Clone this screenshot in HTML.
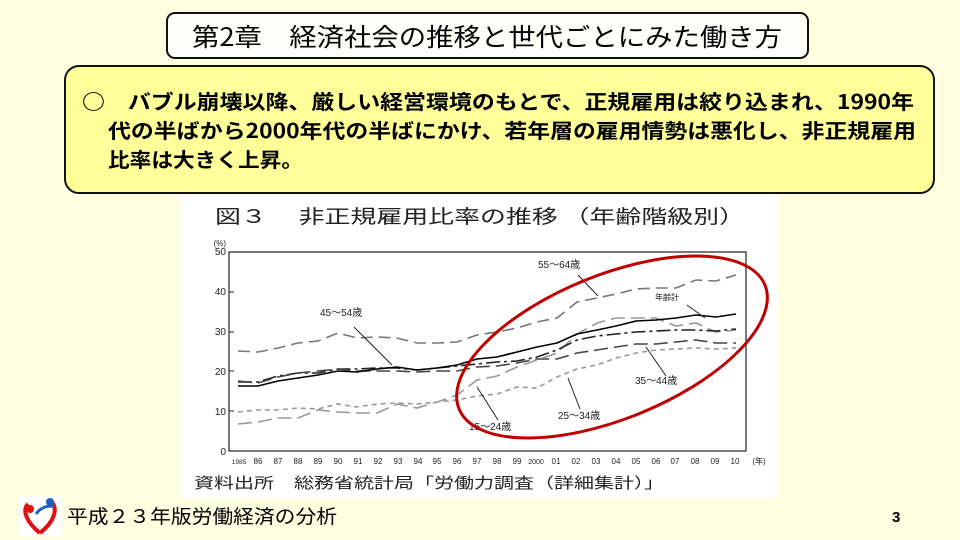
<!DOCTYPE html>
<html><head><meta charset="utf-8"><style>
body{margin:0;width:960px;height:540px;background:#FFFEE0;overflow:hidden;font-family:"Liberation Sans","Noto Sans CJK JP",sans-serif;}
</style></head><body>
<svg width="960" height="540" xmlns="http://www.w3.org/2000/svg" style="position:absolute;left:0;top:0">
<rect x="0" y="0" width="960" height="540" fill="#FFFEE0"/>
<rect x="167" y="13" width="641" height="45" rx="8" fill="#FFFFF8" stroke="#111" stroke-width="2"/>
<text x="192" y="46" textLength="590" lengthAdjust="spacingAndGlyphs" font-size="25" font-family="'Noto Sans CJK JP',sans-serif" fill="#000">第2章　経済社会の推移と世代ごとにみた働き方</text>
<rect x="65" y="66" width="869" height="127" rx="14" fill="#FFFF99" stroke="#111" stroke-width="2"/>
<g font-size="20" font-family="'Noto Sans CJK JP',sans-serif" fill="#000" font-weight="bold">
<text x="82" y="109" textLength="832" lengthAdjust="spacingAndGlyphs">○　バブル崩壊以降、厳しい経営環境のもとで、正規雇用は絞り込まれ、1990年</text>
<text x="108" y="138" textLength="808" lengthAdjust="spacingAndGlyphs">代の半ばから2000年代の半ばにかけ、若年層の雇用情勢は悪化し、非正規雇用</text>
<text x="108" y="167" textLength="195" lengthAdjust="spacingAndGlyphs">比率は大きく上昇。</text>
</g>
<rect x="180" y="196" width="598" height="302" fill="#FFFFFF"/>
<text x="215" y="223" textLength="530" lengthAdjust="spacingAndGlyphs" font-size="19" font-family="'Noto Sans CJK JP',sans-serif" fill="#222">図３　 非正規雇用比率の推移 （年齢階級別）</text>
<g font-size="10" fill="#222" text-anchor="end">
<text x="226" y="246" font-size="8">(%)</text>
<text x="226" y="255">50</text><text x="226" y="295">40</text><text x="226" y="335">30</text><text x="226" y="375">20</text><text x="226" y="415">10</text><text x="226" y="455">0</text>
</g>
<rect x="229" y="252" width="517" height="199" fill="none" stroke="#222" stroke-width="1.2"/>
<g stroke="#222"><line x1="229" y1="292" x2="234" y2="292"/><line x1="229" y1="332" x2="234" y2="332"/><line x1="229" y1="371" x2="234" y2="371"/><line x1="229" y1="411" x2="234" y2="411"/></g>
<g font-size="8" fill="#222" text-anchor="middle">
<text x="239" y="464" font-size="6.5">1985</text><text x="258" y="464">86</text><text x="278" y="464">87</text><text x="298" y="464">88</text><text x="318" y="464">89</text><text x="338" y="464">90</text><text x="358" y="464">91</text><text x="378" y="464">92</text><text x="398" y="464">93</text><text x="418" y="464">94</text><text x="437" y="464">95</text><text x="457" y="464">96</text><text x="477" y="464">97</text><text x="497" y="464">98</text><text x="517" y="464">99</text><text x="536" y="464" font-size="7">2000</text><text x="556" y="464">01</text><text x="576" y="464">02</text><text x="596" y="464">03</text><text x="616" y="464">04</text><text x="636" y="464">05</text><text x="656" y="464">06</text><text x="675" y="464">07</text><text x="695" y="464">08</text><text x="715" y="464">09</text><text x="735" y="464">10</text><text x="759" y="464">(年)</text>
</g>
<text x="194" y="488" textLength="470" lengthAdjust="spacingAndGlyphs" font-size="15" font-family="'Noto Sans CJK JP',sans-serif" fill="#222">資料出所　総務省統計局「労働力調査（詳細集計）」</text>
<g fill="none" stroke-width="1.6">
<polyline stroke="#777" stroke-dasharray="12,6" points="238,351 258,352 278,348 298,343 318,341 338,333 357,338 377,337 397,338 417,343 437,343 457,342 477,335 497,332 517,328 537,322 557,318 577,302 597,298 616,294 636,289 656,288 676,288 696,280 716,281 736,275"/>
<polyline stroke="#999" stroke-dasharray="14,6" points="238,424 258,422 278,418 298,418 318,410 338,412 357,413 377,413 397,404 417,408 437,402 457,395 477,380 497,376 517,367 537,360 557,353 577,334 597,323 616,318 636,318 656,318 676,326 696,323 716,332 736,330"/>
<polyline stroke="#222" stroke-dasharray="14,4,3,4" points="238,382 258,382 278,376 298,373 318,373 338,369 357,369 377,368 397,368 417,370 437,368 457,366 477,364 497,362 517,361 537,357 557,350 577,340 597,336 616,334 636,332 656,331 676,330 696,330 716,331 736,329"/>
<polyline stroke="#444" stroke-dasharray="14,6" points="238,381 258,383 278,377 298,373 318,371 338,369 357,371 377,371 397,371 417,372 437,371 457,371 477,367 497,366 517,363 537,359 557,359 577,353 597,350 616,347 636,344 656,344 676,342 696,340 716,343 736,343"/>
<polyline stroke="#999" stroke-dasharray="5,4" points="238,412 258,410 278,410 298,408 318,409 338,404 357,407 377,404 397,403 417,404 437,402 457,400 477,396 497,394 517,387 537,388 557,377 577,369 597,365 616,358 636,353 656,350 676,349 696,348 716,349 736,348"/>
<polyline stroke="#000" points="238,386 258,386 278,381 298,378 318,375 338,371 357,372 377,369 397,367 417,370 437,368 457,365 477,359 497,357 517,352 537,347 557,343 577,334 597,330 616,326 636,321 656,320 676,318 696,315 716,317 736,314"/>
</g>
<g font-size="10" fill="#222">
<text x="538" y="268">55〜64歳</text>
<text x="320" y="316">45〜54歳</text>
<text x="655" y="300" font-size="8">年齢計</text>
<text x="635" y="384">35〜44歳</text>
<text x="558" y="419">25〜34歳</text>
<text x="469" y="430">15〜24歳</text>
</g>
<g stroke="#222" stroke-width="1" fill="none">
<line x1="578" y1="275" x2="598" y2="296"/><line x1="354" y1="327" x2="392" y2="365"/><line x1="687" y1="305" x2="705" y2="318"/>
<line x1="666" y1="376" x2="646" y2="347"/><line x1="580" y1="409" x2="568" y2="378"/><line x1="498" y1="420" x2="477" y2="387"/>
</g>
<ellipse cx="612" cy="347" rx="165" ry="72" transform="rotate(-22 612 347)" fill="none" stroke="#C00000" stroke-width="3"/>
<rect x="19" y="496" width="42" height="40" fill="#fff"/>
<path d="M40 533 C26 522 22 510 28 504 M40 533 C54 522 58 510 52 502" stroke="#E01010" stroke-width="4" fill="none"/>
<circle cx="30" cy="509" r="4" fill="#E01010"/><circle cx="50" cy="502" r="4" fill="#1F5FBF"/>
<path d="M36 514 C42 506 48 506 54 506" stroke="#1F5FBF" stroke-width="3" fill="none"/>
<text x="67" y="523" textLength="270" lengthAdjust="spacingAndGlyphs" font-size="19" font-family="'Noto Sans CJK JP',sans-serif" fill="#000">平成２３年版労働経済の分析</text>
<text x="892" y="522" font-size="15" font-weight="bold" fill="#000">3</text>
</svg>
</body></html>
